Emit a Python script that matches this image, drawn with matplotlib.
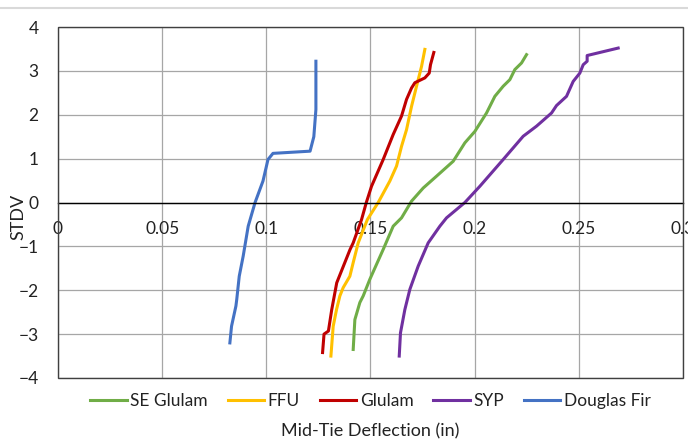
import numpy as np
import matplotlib
matplotlib.use("Agg")
import matplotlib.pyplot as plt
from matplotlib.lines import Line2D
from matplotlib.patches import Rectangle

plt.rcParams['font.family'] = ['Lato', 'DejaVu Sans']

# data (deflection in, STDV)
se_glulam_x = [0.1417, 0.1425, 0.1449, 0.1465, 0.1497, 0.1561, 0.1609, 0.1649, 0.1697,
               0.1753, 0.1817, 0.1897, 0.1953, 0.2001, 0.2057, 0.2097, 0.2137, 0.2169,
               0.2193, 0.2225, 0.2249]
se_glulam_y = [-3.35, -2.67, -2.28, -2.13, -1.75, -1.07, -0.54, -0.35, 0.03,
               0.33, 0.60, 0.94, 1.36, 1.62, 2.04, 2.42, 2.65, 2.80,
               3.03, 3.18, 3.37]

ffu_x = [0.1310, 0.1321, 0.1337, 0.1353, 0.1369, 0.1401, 0.1417, 0.1441, 0.1485,
         0.1537, 0.1593, 0.1625, 0.1649, 0.1673, 0.1697, 0.1721, 0.1745, 0.1761]
ffu_y = [-3.50, -2.82, -2.44, -2.13, -1.94, -1.68, -1.37, -0.92, -0.39,
         0.0, 0.49, 0.83, 1.28, 1.66, 2.19, 2.65, 3.10, 3.49]

glulam_x = [0.1270, 0.1277, 0.1298, 0.1314, 0.1338, 0.1370, 0.1402, 0.1417, 0.1457,
            0.1480, 0.1505, 0.1561, 0.1609, 0.1649, 0.1673, 0.1697, 0.1713, 0.1761,
            0.1782, 0.1788, 0.1804]
glulam_y = [-3.42, -3.00, -2.93, -2.44, -1.83, -1.45, -1.07, -0.92, -0.39,
            0.0, 0.37, 0.98, 1.55, 1.97, 2.35, 2.61, 2.73, 2.84,
            2.95, 3.14, 3.42]

syp_x = [0.1638, 0.1644, 0.1665, 0.1689, 0.1729, 0.1777, 0.1833, 0.1865, 0.1953,
         0.2025, 0.2137, 0.2233, 0.2297, 0.2369, 0.2393, 0.2441, 0.2473, 0.2505,
         0.2521, 0.2540, 0.2540, 0.2689]
syp_y = [-3.50, -2.97, -2.44, -1.98, -1.45, -0.92, -0.54, -0.35, 0.0,
         0.37, 0.98, 1.51, 1.74, 2.04, 2.21, 2.42, 2.76, 2.95,
         3.14, 3.22, 3.35, 3.52]

doug_x = [0.0825, 0.0833, 0.0854, 0.0858, 0.0870, 0.0889, 0.0913, 0.0946, 0.0984,
          0.1008, 0.1032, 0.1210, 0.1228, 0.1238, 0.1238]
doug_y = [-3.20, -2.82, -2.36, -2.21, -1.68, -1.22, -0.54, 0.0, 0.49,
          0.98, 1.12, 1.17, 1.50, 2.12, 3.22]

series = [
    ("SE Glulam", se_glulam_x, se_glulam_y, "#70AD47"),
    ("FFU", ffu_x, ffu_y, "#FFC000"),
    ("Glulam", glulam_x, glulam_y, "#C00000"),
    ("SYP", syp_x, syp_y, "#7030A0"),
    ("Douglas Fir", doug_x, doug_y, "#4472C4"),
]

fig = plt.figure(figsize=(6.88, 4.42), dpi=100)
ax = fig.add_axes([0.0843, 0.1448, 0.9084, 0.7941])

for name, xs, ys, c in series:
    ax.plot(xs, ys, color=c, lw=2.2, label=name, solid_joinstyle='round')

ax.set_xlim(0, 0.3)
ax.set_ylim(-4, 4)
ax.set_xticks(np.arange(0, 0.301, 0.05))
ax.set_xticklabels(["0", "0.05", "0.1", "0.15", "0.2", "0.25", "0.3"])
ax.set_yticks(range(-4, 5))
ax.grid(True, color="#a6a6a6", lw=0.9)
ax.set_axisbelow(True)

# x axis crosses at zero, plot-area border drawn separately
for s in ['top', 'right', 'left']:
    ax.spines[s].set_visible(False)
ax.spines['bottom'].set_position(('data', 0))
ax.spines['bottom'].set_color('black')
ax.spines['bottom'].set_linewidth(1.0)
ax.add_patch(Rectangle((0, 0), 1, 1, transform=ax.transAxes, fill=False,
                       edgecolor='#404040', lw=1.0, clip_on=False, zorder=5))
ax.tick_params(axis='both', length=0, labelsize=12.5, colors='#222222')
ax.tick_params(axis='x', pad=13)
ax.tick_params(axis='y', pad=14)

ax.set_ylabel("STDV", fontsize=13, color='#222222')
ax.yaxis.set_label_coords(-0.051, 0.459)
ax.set_xlabel("Mid-Tie Deflection (in)", fontsize=13, color='#222222')
ax.xaxis.set_label_coords(0.5, -0.128)

ax.legend(loc='center', bbox_to_anchor=(0.5, -0.065), ncol=5, frameon=False,
          fontsize=12.5, handlelength=2.1, handletextpad=0.2, columnspacing=1.15,
          labelcolor='#222222')

fig.add_artist(Line2D([0, 1], [0.982, 0.982], color='#d9d9d9', lw=1.5))

fig.savefig("out.png", dpi=100)
